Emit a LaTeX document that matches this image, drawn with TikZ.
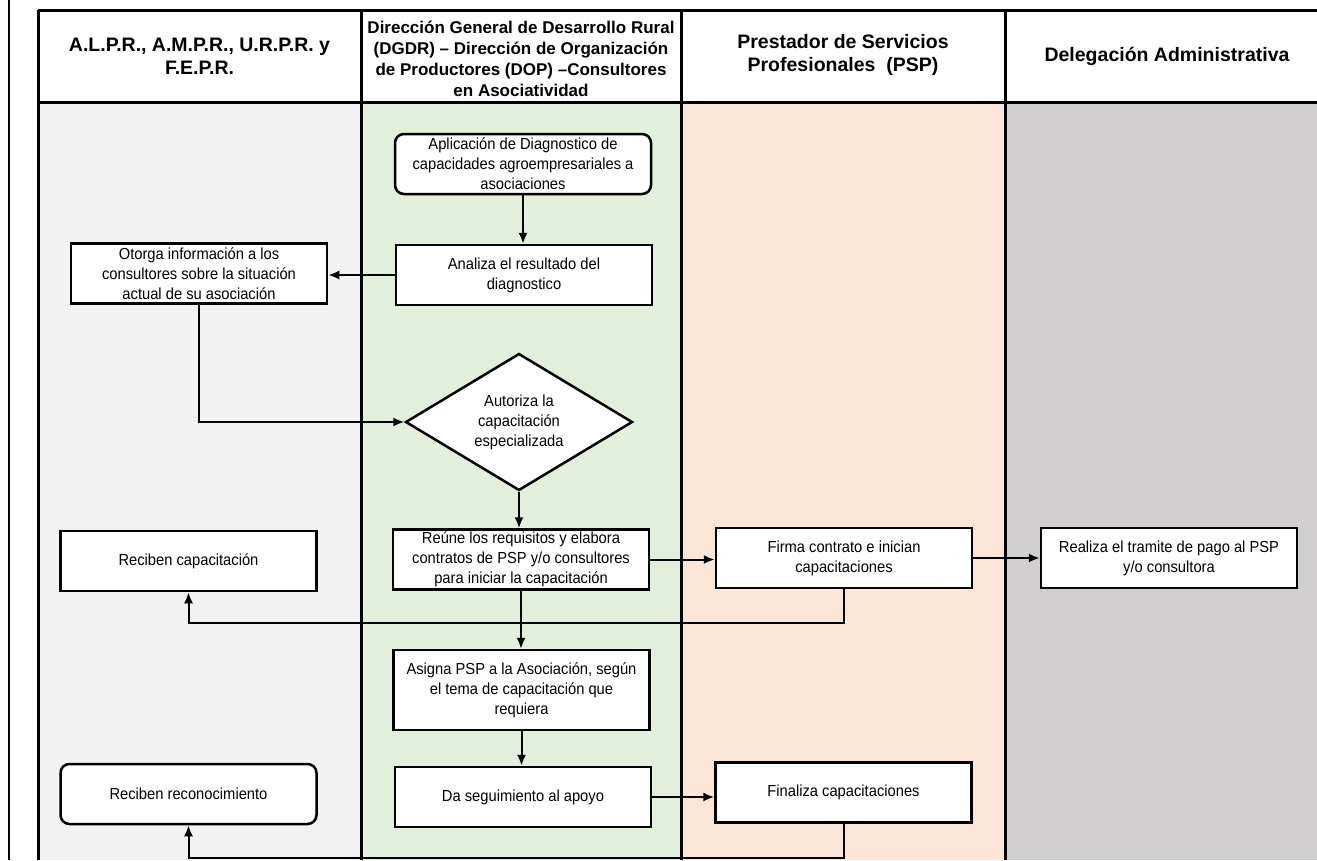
\documentclass[tikz,border=0pt]{standalone}
\usepackage{fontspec}
\setmainfont[FakeStretch=0.92]{Liberation Sans}
\newfontfamily\cabfont{Liberation Sans}
\usetikzlibrary{shapes.geometric,arrows.meta}

\definecolor{carrilA}{HTML}{F2F2F2}
\definecolor{carrilB}{HTML}{E2EFDA}
\definecolor{carrilC}{HTML}{FBE5D6}
\definecolor{carrilD}{HTML}{D0CECE}

\tikzset{
  paso/.style={draw, line width=2.5pt, fill=white, align=center,
    minimum width=256pt, minimum height=60pt, inner sep=2pt,
    font=\fontsize{16}{20}\selectfont},
  pasor/.style={paso, rounded corners=9pt},
  decision/.style={draw, diamond, aspect=1.65, line width=2.5pt, fill=white,
    align=center, inner sep=0pt, minimum width=227pt, minimum height=137pt,
    font=\fontsize{16}{20}\selectfont},
  cabeza/.style={align=center, font=\cabfont\bfseries\fontsize{19.5}{23}\selectfont},
  flecha/.style={line width=2pt, -{Latex[length=11pt,width=9pt]}},
  carril/.style={line width=3pt},
}

\begin{document}
\begin{tikzpicture}[x=1pt,y=-1pt]
    \fill[white] (0,0) rectangle (1317,860);
    \useasboundingbox (0,0) rectangle (1317,860);

    % carriles
    \fill[carrilA] (38,102) rectangle (361,860);
    \fill[carrilB] (361,102) rectangle (681,860);
    \fill[carrilC] (681,102) rectangle (1005,860);
    \fill[carrilD] (1005,102) rectangle (1317,860);

    \draw[line width=1.5pt] (9,0) -- (9,860);
    \draw[carril] (38,10) -- (1317,10);
    \draw[carril] (38,102) -- (1317,102);
    \foreach \cx in {38,361,681,1005}
      \draw[carril] (\cx,10) -- (\cx,860);

    % encabezados
    \node[cabeza] (cabA) at (199.5,56) {A.L.P.R., A.M.P.R., U.R.P.R. y\\F.E.P.R.};
    \node[cabeza, font=\cabfont\bfseries\fontsize{17}{21}\selectfont] (cabB) at (521,59)
      {Dirección General de Desarrollo Rural\\(DGDR) – Dirección de Organización\\de Productores (DOP) –Consultores\\en Asociatividad};
    \node[cabeza] (cabC) at (843,55) {Prestador de Servicios\\Profesionales\ \ (PSP)};
    \node[cabeza] (cabD) at (1167,56) {Delegación Administrativa};

    % pasos
    \node[pasor] (aplica) at (523,164) {Aplicación de Diagnostico de\\capacidades agroempresariales a\\asociaciones};
    \node[paso] (analiza) at (524,275) {Analiza el resultado del\\diagnostico};
    \node[paso] (otorga) at (199,273.5) {Otorga información a los\\consultores sobre la situación\\actual de su asociación};
    \node[decision] (autoriza) at (519,422) {Autoriza la\\capacitación\\especializada};
    \node[paso] (reune) at (521,559.5) {Reúne los requisitos y elabora\\contratos de PSP y/o consultores\\para iniciar la capacitación};
    \node[paso] (recibecap) at (188.5,561) {Reciben capacitación};
    \node[paso] (firma) at (844,558) {Firma contrato e inician\\capacitaciones};
    \node[paso] (tramite) at (1169,558) {Realiza el tramite de pago al PSP\\y/o consultora};
    \node[paso, minimum height=80pt] (asigna) at (521.5,690) {Asigna PSP a la Asociación, según\\el tema de capacitación que\\requiera};
    \node[paso] (seguimiento) at (523,797) {Da seguimiento al apoyo};
    \node[pasor] (reconoce) at (188.5,794) {Reciben reconocimiento};
    \node[paso] (finaliza) at (843.5,792.5) {Finaliza capacitaciones};

    % conectores
    \coordinate (retornoA) at (0,623);
    \coordinate (retornoB) at (0,858);
    \draw[flecha] (aplica.south) -- (aplica.south |- analiza.north);
    \draw[flecha] (analiza.west) -- (analiza.west -| otorga.east);
    \draw[flecha] (otorga.south) |- (autoriza.west);
    \draw[flecha] (autoriza.south) -- (autoriza.south |- reune.north);
    \draw[flecha] (reune.south) -- (reune.south |- asigna.north);
    \draw[flecha] (reune.east) -- (reune.east -| firma.west);
    \draw[flecha] (firma.east) -- (firma.east -| tramite.west);
    \draw[flecha] (firma.south) |- (recibecap.south |- retornoA) -- (recibecap.south);
    \draw[flecha] (asigna.south) -- (asigna.south |- seguimiento.north);
    \draw[flecha] (seguimiento.east) -- (seguimiento.east -| finaliza.west);
    \draw[flecha] (finaliza.south) |- (reconoce.south |- retornoB) -- (reconoce.south);

\end{tikzpicture}
\end{document}
